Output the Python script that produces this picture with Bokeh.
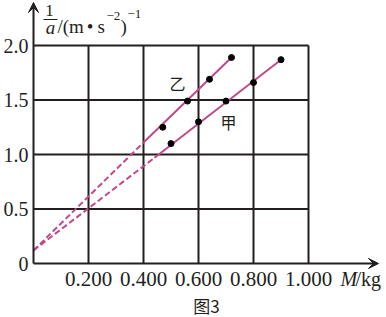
from bokeh.plotting import figure
from bokeh.models import Range1d, Label, Arrow, VeeHead
from bokeh.core.properties import value
from bokeh.embed import file_html
from bokeh.resources import INLINE

# ---------------- data ----------------
x_ticks = [0.2, 0.4, 0.6, 0.8, 1.0]
x_tick_labels = ["0.200", "0.400", "0.600", "0.800", "1.000"]
y_ticks = [0.0, 0.5, 1.0, 1.5, 2.0]
y_tick_labels = ["0", "0.5", "1.0", "1.5", "2.0"]

jia_M = [0.50, 0.60, 0.70, 0.80, 0.90]
jia_inv_a = [1.10, 1.30, 1.49, 1.66, 1.87]
yi_M = [0.47, 0.56, 0.64, 0.72]
yi_inv_a = [1.25, 1.49, 1.69, 1.89]

# fitted lines: dashed part then solid part
jia_fit_M = [0.0, 0.44, 0.90]
jia_fit_inv_a = [0.12, 0.97, 1.87]
yi_fit_M = [0.0, 0.40, 0.72]
yi_fit_inv_a = [0.12, 1.11, 1.89]

# ---------------- layout ----------------
W, H = 386, 317
X0_PX, Y0_PX = 33, 263          # pixel position of the origin
PX_X, PX_Y = 275.0, 109.0       # pixels per kg, pixels per unit of 1/a


def dx(px):
    return (px - X0_PX) / PX_X


def dy(py):
    return (Y0_PX - py) / PX_Y


INK = "#231f20"
PINK = "#c2488a"
SERIF = "Liberation Serif"
CJK = "Noto Sans CJK SC"

p = figure(width=W, height=H, x_range=Range1d(dx(0), dx(W)), y_range=Range1d(dy(H), dy(0)),
           output_backend="svg", toolbar_location=None, min_border=0)
p.outline_line_color = None
p.xaxis.visible = False
p.yaxis.visible = False
p.grid.visible = False
p.background_fill_color = "white"
p.border_fill_color = "white"

# grid
p.segment(x0=x_ticks, y0=0, x1=x_ticks, y1=max(y_ticks), line_color=INK, line_width=2)
p.segment(x0=0, y0=y_ticks[1:], x1=max(x_ticks), y1=y_ticks[1:], line_color=INK, line_width=2)

# axes with arrows
p.add_layout(Arrow(end=VeeHead(size=10, fill_color=INK, line_color=INK, line_width=1),
                   x_start=0, y_start=0, x_end=dx(378), y_end=0, line_color=INK, line_width=2))
p.add_layout(Arrow(end=VeeHead(size=10, fill_color=INK, line_color=INK, line_width=1),
                   x_start=0, y_start=0, x_end=0, y_end=dy(2), line_color=INK, line_width=2))

# tick labels
p.text(x=x_ticks, y=dy(278), text=x_tick_labels, text_font=value(SERIF), text_font_size="21px",
       text_align="center", text_baseline="middle", text_color=INK)
p.text(x=dx(28), y=y_ticks, text=y_tick_labels, text_font=value(SERIF), text_font_size="20px",
       text_align="right", text_baseline="middle", text_color=INK)

# fitted lines
p.line(jia_fit_M[:2], jia_fit_inv_a[:2], line_color=PINK, line_width=2, line_dash="6 3")
p.line(jia_fit_M[1:], jia_fit_inv_a[1:], line_color=PINK, line_width=2)
p.line(yi_fit_M[:2], yi_fit_inv_a[:2], line_color=PINK, line_width=2, line_dash="6 3")
p.line(yi_fit_M[1:], yi_fit_inv_a[1:], line_color=PINK, line_width=2)

# points
p.scatter(jia_M, jia_inv_a, size=6, color="black")
p.scatter(yi_M, yi_inv_a, size=6, color="black")


def lab(px, py, text, size, font=SERIF, style="normal", align="left"):
    p.add_layout(Label(x=dx(px), y=dy(py), text=text, text_font=font, text_font_size=size,
                       text_font_style=style, text_align=align, text_baseline="middle",
                       text_color=INK))


# y-axis title: 1/a /(m·s^-2)^-1
lab(49, 9.5, "1", "17px", align="center")
p.add_layout(Arrow(start=None, end=None, x_start=dx(43), y_start=dy(19), x_end=dx(57), y_end=dy(19),
                   line_color=INK, line_width=1))
lab(50, 26.5, "a", "19px", style="italic", align="center")
lab(57, 25.5, "/(m", "19px")
lab(89.5, 25.5, "•", "19px", align="center")
lab(97, 25.5, "s", "19px")
lab(106, 15.5, "−2", "13px")
lab(120, 25.5, ")", "19px")
lab(127, 13.5, "−1", "13px")

# x-axis title
lab(340, 278, "M", "20px", style="italic")
lab(355, 278, "/kg", "20px")

# series names and caption
lab(177, 82, "乙", "16px", font=CJK, align="center")
lab(228, 121, "甲", "16px", font=CJK, align="center")
lab(206, 305, "图3", "17px", font=CJK, align="center")

open("out.html", "w").write(file_html(p, INLINE))
